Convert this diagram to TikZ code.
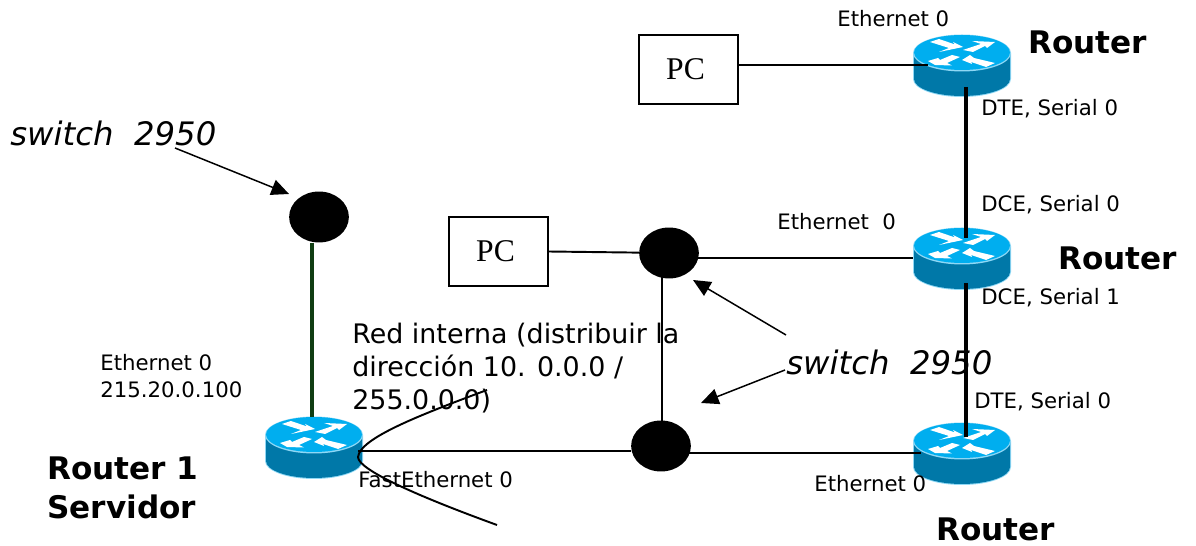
\documentclass[tikz,border=0pt]{standalone}
\usepackage{fontspec}
\setmainfont{DejaVu Sans}
\newfontfamily\pcfont{Liberation Serif}
\usepackage{xcolor}
\usepackage{tikz}
\usetikzlibrary{arrows.meta,shapes.geometric}
\definecolor{routertop}{HTML}{00AEEF}
\definecolor{routerside}{HTML}{0078A8}
\definecolor{routeredge}{HTML}{8FD8F5}
\definecolor{uplink}{HTML}{0F3D12}
\tikzset{
  lbl/.style={font=\fontsize{12.1pt}{15.6pt}\selectfont, inner sep=0pt, align=left, anchor=west},
  redlbl/.style={font=\fontsize{15.3pt}{18.6pt}\selectfont, inner sep=0pt, align=left, anchor=west},
  swlbl/.style={font=\fontsize{18.4pt}{20pt}\itshape\selectfont, inner sep=0pt, anchor=west},
  rtlbl/.style={font=\fontsize{17.7pt}{22.5pt}\bfseries\selectfont, inner sep=0pt, align=left, anchor=west},
  pcbox/.style={draw, line width=0.7pt, minimum width=56.3pt, minimum height=39.3pt, inner sep=0pt, font=\fontsize{18pt}{20pt}\pcfont},
  swdot/.style={ellipse, fill=black, minimum width=34pt, minimum height=29pt, inner sep=0pt},
  routerbase/.style={minimum width=55.7pt, minimum height=35.3pt, inner sep=0pt},
  eth/.style={line width=1.1pt},
  ser/.style={line width=2.2pt},
  note/.style={line width=0.85pt, -{Triangle[length=10pt,width=9pt]}},
  router/.pic={
    \fill[routeredge] (-49,-13) -- (-49,13) arc[start angle=180,end angle=0,x radius=49,y radius=18] -- (49,-13) -- cycle;
    \fill[routerside] (-48,-13) -- (-48,13) arc[start angle=180,end angle=0,x radius=48,y radius=17] -- (48,-13) -- cycle;
    \fill[routeredge] (0,-13) ellipse[x radius=49,y radius=18.5];
    \fill[routertop] (0,-13.5) ellipse[x radius=48,y radius=17.5];
    \fill[white] (-32,-24) -- (-23,-27) -- (-7,-21.5) -- (-9,-24) -- (1,-19) -- (-23,-14) -- (-13,-18) -- cycle;
    \fill[white] (1,-16) -- (19,-22) -- (10,-25) -- (33,-24) -- (25,-18) -- (23,-20) -- (11,-14) -- cycle;
    \fill[white] (-34,-5) -- (-24,-8) -- (-22,-6) -- (-10,-11) -- (-2,-9) -- (-15,-3) -- (-10,-0.5) -- (-27,-1) -- cycle;
    \fill[white] (0,-6) -- (8,-11) -- (12,-8) -- (33,-3) -- (24,1) -- (9,-4) -- (10,-2) -- cycle;
  },
}
\begin{document}
\begin{tikzpicture}[x=0.02cm,y=-0.02cm]
\useasboundingbox (0,0) rectangle (1196,546);
% routers
\node[routerbase] (rtop) at (962,66) {};
\node[routerbase] (rmid) at (962,259) {};
\node[routerbase] (rbot) at (962,454) {};
\node[routerbase] (rleft) at (314,448) {};
\pic at (rtop) {router};
\pic at (rmid) {router};
\pic at (rbot) {router};
\pic at (rleft) {router};
% switches and PCs
\node[swdot] (swleft) at (319,217) {};
\node[swdot] (swmid) at (669,253) {};
\node[swdot] (swbot) at (661,446) {};
\node[pcbox] (pctop) at (688.5,69.5) {PC\kern3.4pt};
\node[pcbox] (pcmid) at (498.5,251.5) {PC\kern3.4pt};
% port coordinates
\coordinate (rtopE) at (928,65);
\coordinate (rtopS) at (966,87);
\coordinate (rmidN) at (966,238);
\coordinate (rmidW) at (913,258);
\coordinate (rmidS) at (966,283);
\coordinate (rbotN) at (966,437);
\coordinate (rbotW) at (921,453);
\coordinate (rleftU) at (312,417);
\coordinate (rleftE) at (358,451);
\coordinate (swmidR) at (696,258);
\coordinate (swbotR) at (688,453);
\coordinate (swmidD) at (662,277);
\coordinate (swbotU) at (662,422);
% links
\draw[eth] (pctop.east |- rtopE) -- (rtopE);
\draw[eth] (pcmid.east) -- (swmid);
\draw[eth] (swmidR) -- (rmidW);
\draw[eth] (swbotR) -- (rbotW);
\draw[eth] (swmidD) -- (swbotU);
\draw[eth] (rleftE) -- (swbot.west |- rleftE);
\draw[ser] (rtopS) -- (rmidN);
\draw[ser] (rmidS) -- (rbotN);
\draw[line width=2.2pt, uplink] (swleft.south -| rleftU) -- (rleftU);
\coordinate (curveA) at (487,390);
\coordinate (curveB) at (497,525);
\draw[line width=1.1pt] (curveA) .. controls (420,415) and (360,438) .. (358,457) .. controls (358,470) and (420,497) .. (curveB);
% notes
\coordinate (noteA) at (175,148);
\coordinate (noteB) at (289,194);
\coordinate (noteC) at (786,335);
\coordinate (noteD) at (693,280);
\coordinate (noteE) at (785,370);
\coordinate (noteF) at (701,403);
\draw[note] (noteA) -- (noteB);
\draw[note] (noteC) -- (noteD);
\draw[note] (noteE) -- (noteF);
% labels
\node[swlbl] (swtxtA) at (10,133) {switch\ \ 2950};
\node[swlbl] (swtxtB) at (786,362) {switch\ \ 2950};
\node[lbl] (ethA) at (837,19) {Ethernet 0};
\node[lbl] (serA) at (981,109) {DTE, Serial 0};
\node[lbl] (serB) at (981,205) {DCE, Serial 0};
\node[lbl] (ethB) at (777,222) {Ethernet\ \ 0};
\node[lbl] (serC) at (981,298) {DCE, Serial 1};
\node[lbl] (serD) at (974,402) {DTE, Serial 0};
\node[lbl] (ethC) at (814,484) {Ethernet 0};
\node[lbl] (ethD) at (358,480) {FastEthernet 0};
\node[lbl] (ethE) at (100,376) {Ethernet 0\\215.20.0.100};
\node[redlbl] (redtxt) at (352,368) {Red interna (distribuir la\\dirección 10. 0.0.0 /\\255.0.0.0)};
\node[rtlbl] (rtA) at (1028,42) {Router};
\node[rtlbl] (rtB) at (1058,258) {Router};
\node[rtlbl] (rtC) at (936,529) {Router};
\node[rtlbl] (rtD) at (47,488) {Router 1\\Servidor};
\end{tikzpicture}
\end{document}
